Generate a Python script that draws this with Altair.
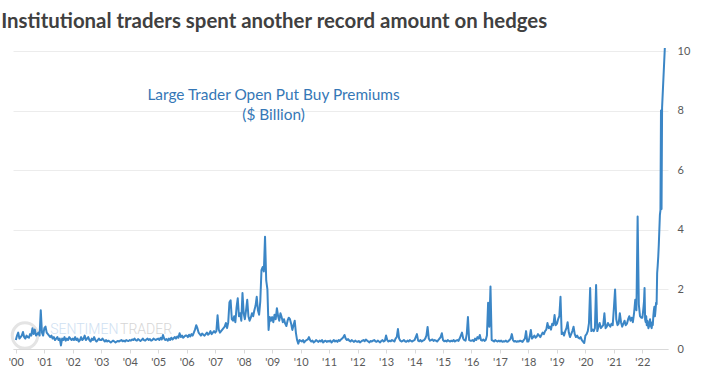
import altair as alt
import pandas as pd

TITLE = "Institutional traders spent another record amount on hedges"
ANNOT_LINES = ["Large Trader Open Put Buy Premiums", "($ Billion)"]
ANNOT_X = [2009.05, 2009.05]
ANNOT_Y = [8.52, 7.85]
YEAR_TICKS = list(range(2000, 2023))
Y_TICKS = [0, 2, 4, 6, 8, 10]
WM_TEXT = ["SENTIMEN", "TRADER"]
WM_X = [2003.6, 2003.66]
WM_Y = [0.64, 0.64]

# Semi-monthly readings ($ billion), 24 per year
P2000 = [0.30,0.45,0.55,0.35,0.40,0.45,0.57,0.40,0.35,0.45,0.40,0.38,0.50,0.45,0.70,0.50,0.65,0.45,0.50,0.55,0.45,1.30,0.55,0.45]
P2001 = [0.70,0.75,0.55,0.50,0.45,0.40,0.45,0.35,0.40,0.30,0.35,0.40,0.30,0.35,0.12,0.35,0.30,0.40,0.28,0.35,0.30,0.40,0.35,0.30]
P2002 = [0.35,0.30,0.40,0.30,0.35,0.25,0.30,0.40,0.30,0.35,0.45,0.30,0.35,0.40,0.30,0.25,0.35,0.30,0.40,0.30,0.25,0.30,0.35,0.30]
P2003 = [0.30,0.35,0.30,0.25,0.30,0.25,0.28,0.25,0.22,0.25,0.28,0.25,0.22,0.25,0.27,0.25,0.28,0.30,0.26,0.28,0.25,0.30,0.28,0.27]
P2004 = [0.30,0.28,0.32,0.30,0.35,0.30,0.28,0.33,0.30,0.27,0.30,0.35,0.30,0.28,0.32,0.35,0.30,0.33,0.28,0.30,0.35,0.32,0.30,0.33]
P2005 = [0.35,0.30,0.38,0.32,0.47,0.35,0.30,0.33,0.28,0.35,0.30,0.38,0.32,0.36,0.40,0.35,0.42,0.38,0.53,0.40,0.45,0.38,0.42,0.45]
P2006 = [0.45,0.40,0.48,0.42,0.50,0.45,0.55,0.65,0.80,0.70,0.55,0.50,0.45,0.52,0.48,0.45,0.50,0.55,0.48,0.52,0.60,0.50,0.55,0.60]
P2007 = [0.55,0.60,1.13,0.65,0.55,0.60,0.65,0.70,0.75,0.87,0.70,0.90,1.57,1.63,1.00,0.95,1.10,0.90,1.40,1.70,1.10,1.20,0.95,1.88]
P2008 = [1.20,1.00,1.30,1.65,1.10,0.95,1.05,1.20,1.10,1.30,1.45,1.75,1.30,1.15,1.60,2.65,2.75,2.60,3.77,2.30,2.00,0.64,1.07,0.95]
P2009 = [1.07,0.90,1.15,1.00,1.37,1.10,0.95,1.20,1.07,0.90,1.00,0.85,0.77,0.95,1.05,1.00,0.85,0.64,0.80,0.95,0.55,0.30,0.18,0.30]
P2010 = [0.28,0.25,0.30,0.22,0.27,0.30,0.32,0.40,0.30,0.25,0.28,0.22,0.25,0.30,0.27,0.24,0.28,0.25,0.30,0.22,0.26,0.28,0.24,0.27]
P2011 = [0.25,0.28,0.22,0.26,0.30,0.25,0.28,0.24,0.30,0.27,0.32,0.35,0.40,0.47,0.35,0.30,0.33,0.28,0.25,0.30,0.27,0.24,0.28,0.25]
P2012 = [0.24,0.27,0.22,0.25,0.28,0.30,0.26,0.32,0.28,0.25,0.22,0.27,0.25,0.28,0.30,0.26,0.24,0.28,0.25,0.22,0.27,0.30,0.25,0.28]
P2013 = [0.45,0.30,0.25,0.28,0.26,0.30,0.28,0.25,0.35,0.40,0.67,0.35,0.28,0.25,0.27,0.30,0.26,0.24,0.28,0.25,0.30,0.27,0.25,0.28]
P2014 = [0.30,0.40,0.50,0.28,0.26,0.30,0.25,0.28,0.30,0.35,0.45,0.74,0.35,0.28,0.30,0.32,0.27,0.30,0.28,0.25,0.30,0.35,0.40,0.53]
P2015 = [0.30,0.26,0.28,0.25,0.30,0.27,0.25,0.28,0.26,0.30,0.25,0.28,0.30,0.27,0.35,0.45,0.55,0.35,0.30,0.28,0.50,1.07,0.30,0.28]
P2016 = [0.28,0.30,0.26,0.35,0.30,0.40,0.35,0.47,0.30,0.28,0.32,0.27,0.30,0.45,1.55,0.75,2.10,0.30,0.28,0.25,0.30,0.27,0.25,0.28]
P2017 = [0.25,0.28,0.24,0.26,0.25,0.28,0.24,0.26,0.30,0.35,0.50,0.30,0.25,0.27,0.24,0.26,0.25,0.28,0.26,0.24,0.30,0.35,0.60,0.25]
P2018 = [0.25,0.40,0.64,0.35,0.40,0.45,0.38,0.42,0.50,0.45,0.40,0.48,0.55,0.50,0.60,0.65,0.87,0.70,0.75,0.65,0.85,0.80,1.14,0.80]
P2019 = [0.85,1.00,1.10,1.75,0.50,0.55,0.45,0.60,0.70,0.90,0.55,0.40,0.50,0.60,0.75,0.50,0.40,0.45,0.38,0.35,0.40,0.30,0.25,0.20]
P2020 = [0.45,0.50,0.60,0.87,2.05,0.60,0.65,0.60,0.70,2.15,0.60,0.75,0.87,0.70,0.75,0.80,1.20,0.70,0.75,0.87,0.80,0.75,0.85,0.80]
P2021 = [1.37,2.00,1.00,0.80,0.85,1.20,0.90,0.75,0.85,0.95,0.80,0.85,1.00,1.10,0.95,1.05,0.90,1.20,1.65,1.30,4.45,1.50,1.10,1.05]

# 2022 weekly readings (week number of the year, $ billion)
W2022 = list(range(0, 37)) + [41]
V2022 = [1.05,1.20,1.40,1.60,2.05,1.00,0.90,1.10,0.80,0.95,0.85,0.70,0.75,0.90,1.00,0.80,
         0.75,0.70,0.90,0.80,1.10,1.30,1.42,1.10,1.30,1.55,1.50,2.55,2.80,3.10,3.50,4.00,
         4.50,4.66,8.00,4.70,8.10,10.10]

SEMI = [P2000, P2001, P2002, P2003, P2004, P2005, P2006, P2007, P2008, P2009, P2010, P2011,
        P2012, P2013, P2014, P2015, P2016, P2017, P2018, P2019, P2020, P2021]

t, v = [], []
for k, vals in enumerate(SEMI):
    yr = 2000 + k
    for i, val in enumerate(vals):
        t.append(yr + i / len(vals))
        v.append(val)
for w, val in zip(W2022, V2022):
    t.append(2022 + w / 52)
    v.append(val)

df = pd.DataFrame({"t": t, "v": v})
annot = pd.DataFrame({"t": ANNOT_X, "v": ANNOT_Y, "label": ANNOT_LINES})
wm_l = pd.DataFrame({"t": [WM_X[0]], "v": [WM_Y[0]], "label": [WM_TEXT[0]]})
wm_r = pd.DataFrame({"t": [WM_X[1]], "v": [WM_Y[1]], "label": [WM_TEXT[1]]})
ring = pd.DataFrame({"t": [2000.32], "v": [0.45]})

xscale = alt.Scale(domain=[1999.9, 2022.9], nice=False, zero=False)
yscale = alt.Scale(domain=[0, 10], nice=False)

xaxis = alt.Axis(
    values=YEAR_TICKS, labelExpr="\"'\" + slice(toString(datum.value), 2)",
    grid=False, domainColor="#d9d9d9", tickColor="#d9d9d9", tickSize=4,
    labelColor="#595959", labelFontSize=11, labelFont="Lato", labelPadding=3,
    labelFlush=False, labelOverlap=False, title=None, zindex=1)
yaxis = alt.Axis(
    orient="right", values=Y_TICKS, domain=False, ticks=False, grid=True,
    gridColor="#ececec", labelColor="#595959", labelFontSize=11, labelFont="Lato",
    labelPadding=9, labelOverlap=False, title=None)

def enc():
    return dict(x=alt.X("t:Q", scale=xscale, axis=xaxis),
                y=alt.Y("v:Q", scale=yscale, axis=yaxis))

ring_layer = alt.Chart(ring).mark_point(shape="circle", filled=False, size=650,
                                         stroke="#d9d9d9", strokeWidth=3).encode(**enc())

wm_left = alt.Chart(wm_l).mark_text(font="Roboto", fontSize=14, align="right",
                                    baseline="middle", color="#cfe1f2",
                                    fontWeight=300).encode(text="label:N", **enc())
wm_right = alt.Chart(wm_r).mark_text(font="Roboto", fontSize=14, align="left",
                                     baseline="middle", color="#d6d6d6",
                                     fontWeight=300).encode(text="label:N", **enc())

line = alt.Chart(df).mark_line(color="#3b86c6", strokeWidth=2, strokeJoin="round").encode(**enc())

text = alt.Chart(annot).mark_text(font="Lato", fontSize=15.4, color="#3577b6",
                                  align="center", baseline="middle").encode(
    text="label:N", **enc())

chart = alt.layer(ring_layer, wm_left, wm_right, line, text).properties(
    width=655, height=298,
    padding={"left": 13, "top": 51, "right": 40, "bottom": 28},
    autosize=alt.AutoSizeParams(type="none"),
    title=alt.TitleParams(text=TITLE, anchor="start", font="Lato", fontSize=20.4,
                          fontWeight="bold", color="#404040", offset=13, dx=-5),
).configure(background="white").configure_view(stroke="white", strokeOpacity=0, strokeWidth=0)

chart.save("out.html", embed_options={"renderer": "svg", "actions": False})
